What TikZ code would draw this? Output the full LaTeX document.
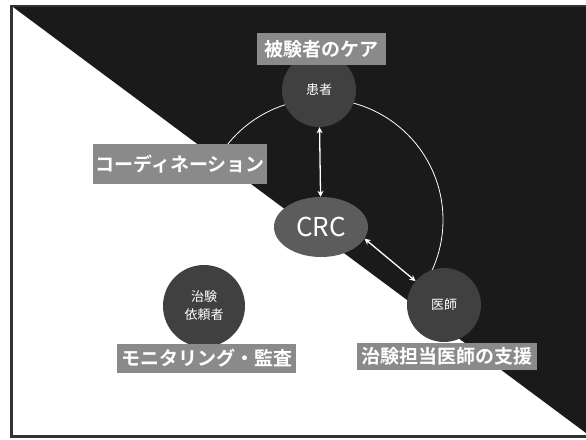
\documentclass[tikz,border=0pt]{standalone}
\usepackage{fontspec}
\newfontfamily\jp[BoldFont={Noto Sans CJK JP Bold}]{Noto Sans CJK JP}
\usetikzlibrary{arrows.meta,shapes.geometric}
\definecolor{bgdark}{HTML}{1A1A1A}
\definecolor{circfill}{HTML}{404040}
\definecolor{crcfill}{HTML}{5C5C5C}
\definecolor{boxfill}{HTML}{8A8A8A}
\definecolor{framec}{HTML}{333333}
\begin{document}
\begin{tikzpicture}[x=1pt,y=-1pt,
  role/.style={circle, fill=circfill, text=white, font=\jp\fontsize{13}{18}\selectfont, minimum size=74pt, inner sep=0pt, align=center},
  duty/.style={rectangle, fill=boxfill, text=white, font=\jp\bfseries\fontsize{19}{19}\selectfont, inner sep=0pt},
  link/.style={white, line width=1.3pt, {Stealth[length=6pt,width=6pt]}-{Stealth[length=6pt,width=6pt]}},
]
\useasboundingbox (0,0) rectangle (586,439);
\fill[white] (0,0) rectangle (586,439);
\fill[bgdark] (13,7) -- (586,7) -- (586,433) -- cycle;
\draw[framec, line width=3pt] (11,6) -- (11,436) -- (586,436);
\draw[framec, line width=1.5pt] (10,6) -- (586,6);
\coordinate (o) at (322,220);
\draw[white, line width=0.8pt] (o) circle[radius=121];
\node[role] (p) at (319,90) {患者};
\node[duty, minimum width=129pt, minimum height=32pt] (cap) at (321.5,49) {被験者のケア};
\node[ellipse, fill=crcfill, text=white, minimum width=94pt, minimum height=60pt, inner sep=0pt, font=\jp\fontsize{26}{26}\selectfont] (crc) at (321,227) {CRC};
\node[role] (d) at (444,305) {医師};
\node[duty, minimum width=180pt, minimum height=27pt] (dl) at (447,356.5) {治験担当医師の支援};
\node[role, minimum size=82pt] (s) at (204,306) {治験\\依頼者};
\node[duty, minimum width=179pt, minimum height=29pt] (sl) at (206.5,358.5) {モニタリング・監査};
\node[duty, minimum width=174pt, minimum height=40pt] (cl) at (180,164) {コーディネーション};
\draw[link] (p) -- (crc);
\draw[link] (crc.-15) -- (d.140);
\end{tikzpicture}
\end{document}
